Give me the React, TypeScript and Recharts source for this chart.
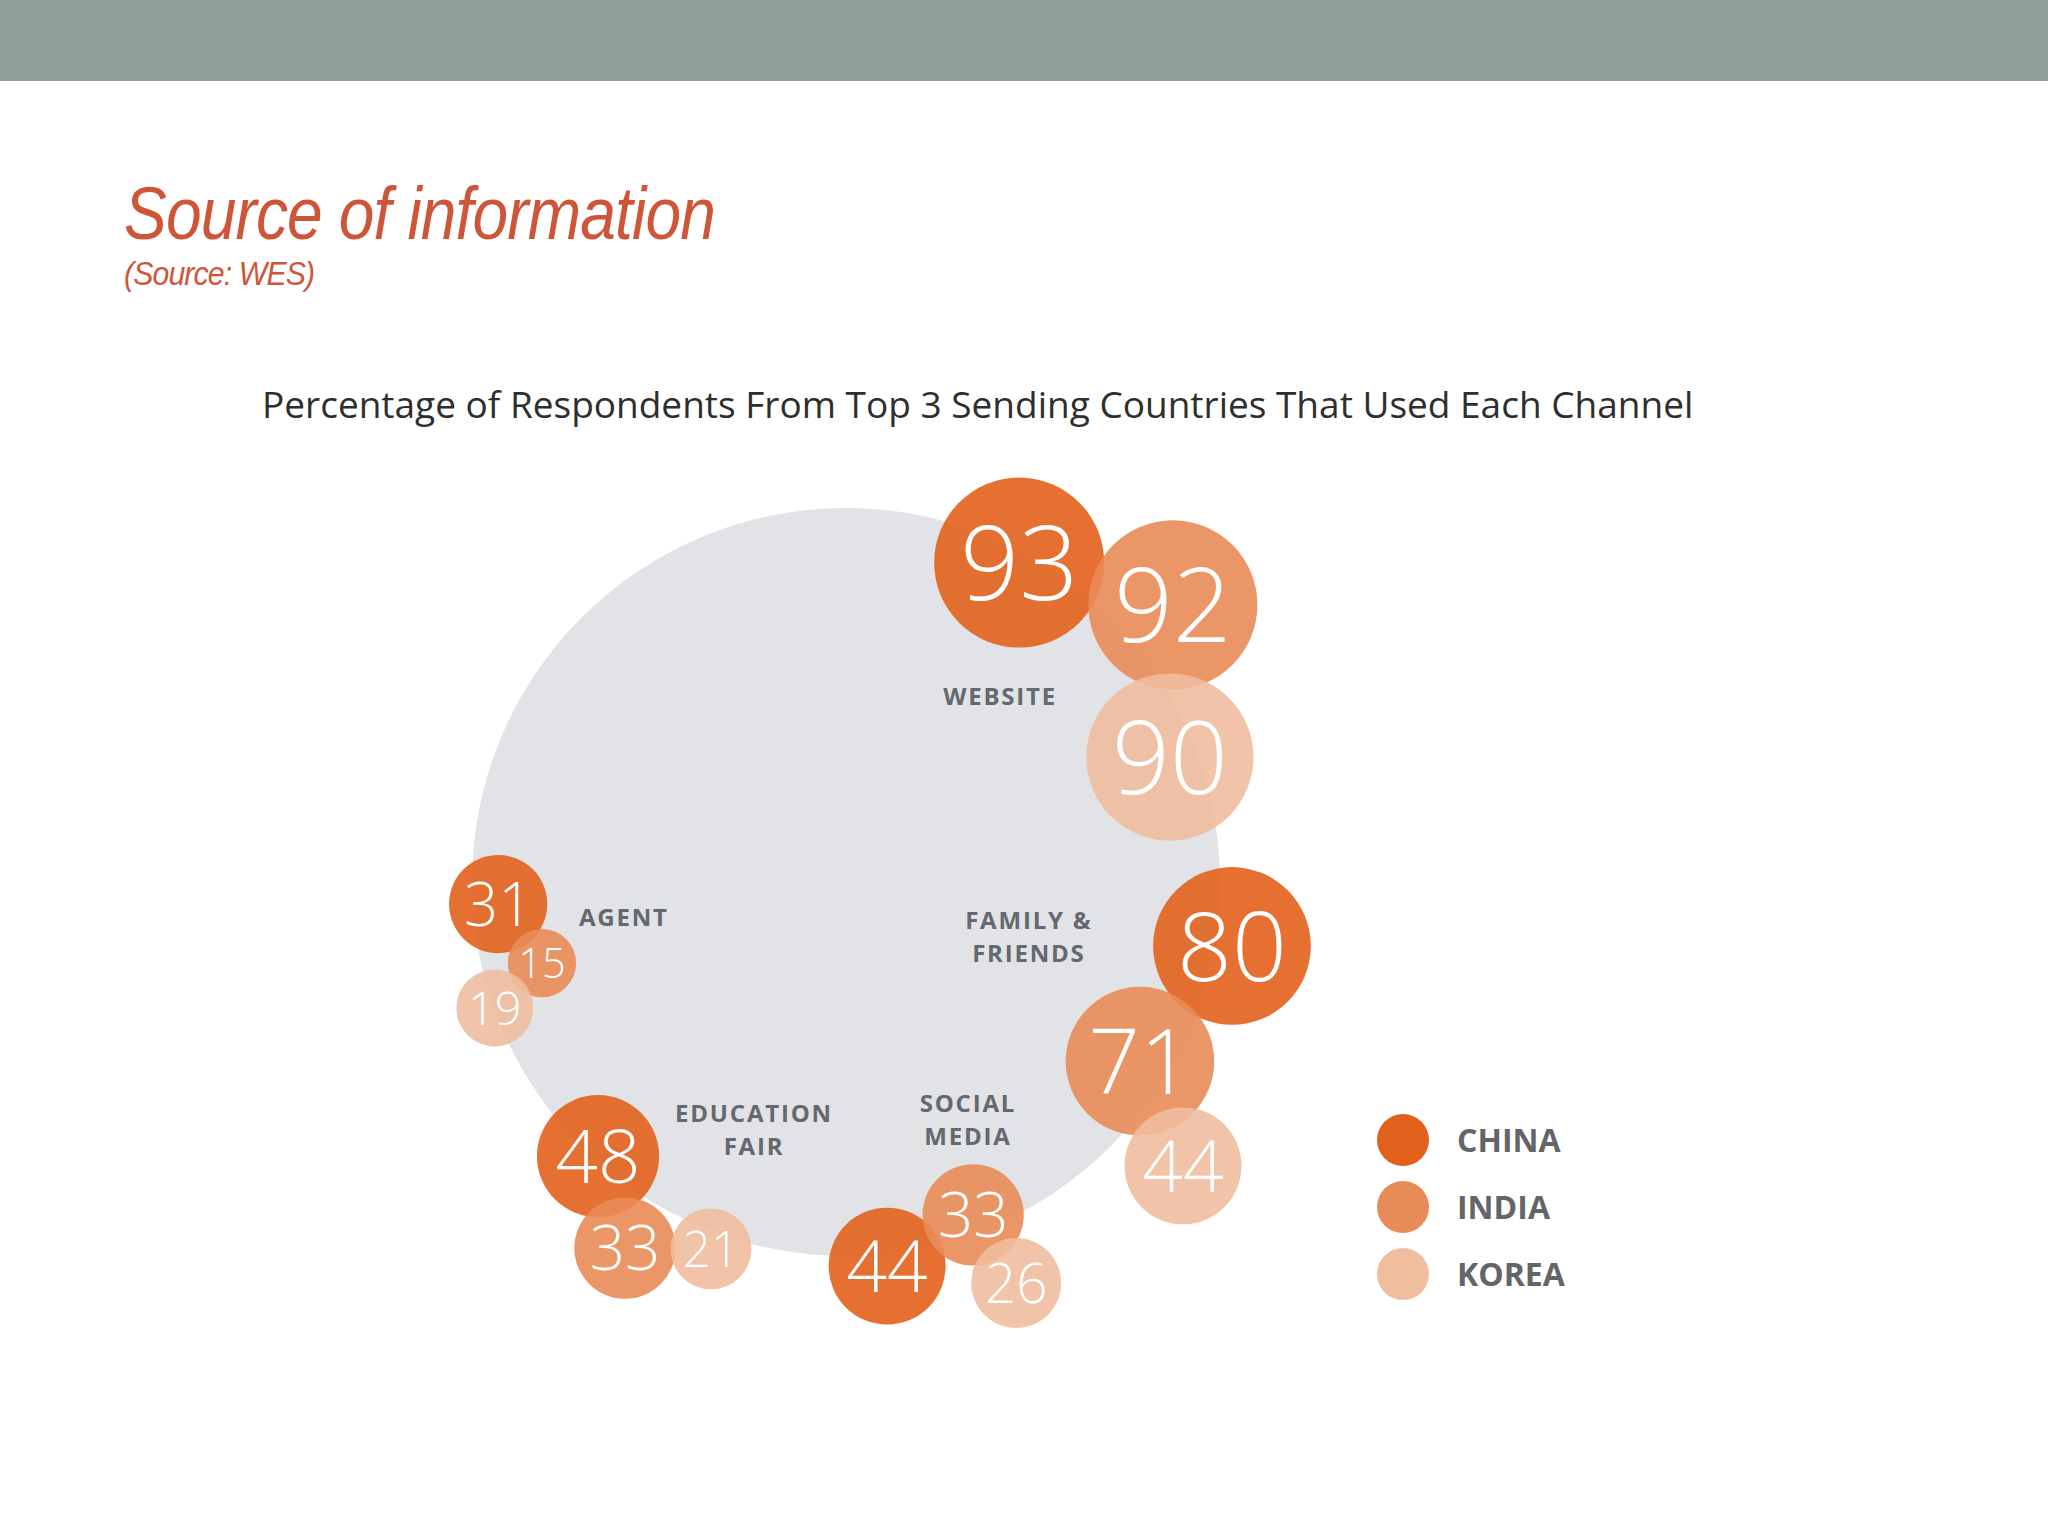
import React from "react";
import { Legend, Scatter, ScatterChart, XAxis, YAxis, ZAxis } from "recharts";

// survey values, channel order: website, family, social media, education fair, agent
const channels = ["WEBSITE", "FAMILY & FRIENDS", "SOCIAL MEDIA", "EDUCATION FAIR", "AGENT"];
const channelLines = [["WEBSITE"], ["FAMILY &", "FRIENDS"], ["SOCIAL", "MEDIA"], ["EDUCATION", "FAIR"], ["AGENT"]];
const countries = ["CHINA", "INDIA", "KOREA"];
const china = [93, 80, 44, 48, 31];
const india = [92, 71, 33, 33, 15];
const korea = [90, 44, 26, 21, 19];

// bubble placement in ring units (ring centre = 0,0, ring radius = 100)
const chinaAt = [[46.3, 85.4], [103.2, -17.1], [11.0, -102.7], [-66.3, -73.3], [-93.0, -5.9]];
const indiaAt = [[87.4, 74.1], [78.6, -47.9], [34.0, -89.0], [-59.1, -97.9], [-81.3, -21.7]];
const koreaAt = [[86.6, 33.4], [90.1, -75.9], [45.5, -107.2], [-36.1, -98.1], [-93.9, -33.7]];
const labelAt = [[41.2, 49.7], [48.9, -14.7], [32.6, -63.6], [-24.6, -66.3], [-59.4, -9.4]];

const colors = ["#e2601b", "#e98b57", "#f0bd9f"];

const W = 2048;
const H = 1536;
const CX = 846;
const CY = 882;
const PX = 3.74; // pixels per ring unit

const toPoints = (values: number[], at: number[][]) =>
  values.map((v, i) => ({ x: at[i][0], y: at[i][1], value: v, name: channels[i] }));

const ring = [{ x: 0, y: 0 }];
const labels = channelLines.map((lines, i) => ({ x: labelAt[i][0], y: labelAt[i][1], lines }));

const bubble = (color: string) => (props: any) => {
  const { cx, cy, width, size, payload } = props;
  const r = width ? width / 2 : Math.sqrt(size / Math.PI);
  const fs = r * 1.22;
  return (
    <g>
      <circle cx={cx} cy={cy} r={r} fill={color} fillOpacity={0.9} />
      <text
        x={cx}
        y={cy}
        dy={fs * 0.36}
        textAnchor="middle"
        fill="#fff"
        fontSize={fs}
        fontWeight={300}
        fontFamily="'Open Sans', sans-serif"
      >
        {payload.value}
      </text>
    </g>
  );
};

const ringShape = (props: any) => (
  <circle cx={props.cx} cy={props.cy} r={100 * PX} fill="#e1e3e6" />
);

const labelShape = (props: any) => {
  const { cx, cy, payload } = props;
  const lines: string[] = payload.lines;
  const lh = 33;
  const top = cy - ((lines.length - 1) * lh) / 2;
  return (
    <g>
      {lines.map((l, i) => (
        <text
          key={l}
          x={cx}
          y={top + i * lh}
          dy={9}
          textAnchor="middle"
          fill="#65686d"
          fontSize={24}
          fontWeight={700}
          letterSpacing={1.8}
          fontFamily="'Open Sans', sans-serif"
        >
          {l}
        </text>
      ))}
    </g>
  );
};

const renderLegend = () => (
  <div>
    {countries.map((c, i) => (
      <div key={c} style={{ display: "flex", alignItems: "center", height: 67 }}>
        <svg width={56} height={56}>
          <circle cx={28} cy={28} r={26} fill={colors[i]} />
        </svg>
        <span
          style={{
            marginLeft: 26,
            fontFamily: "'Open Sans', sans-serif",
            fontWeight: 700,
            fontSize: 32,
            color: "#636568",
          }}
        >
          {c}
        </span>
      </div>
    ))}
  </div>
);

export default function App() {
  return (
    <div style={{ position: "absolute", left: 0, top: 0, width: W, height: H, background: "#fff", overflow: "hidden" }}>
      <div style={{ position: "absolute", left: 0, top: 0, width: W, height: 81, background: "#909f98" }} />
      <div
        style={{
          position: "absolute",
          left: 124,
          top: 177,
          fontFamily: "'Liberation Sans', Arial, sans-serif",
          fontStyle: "italic",
          fontSize: 74,
          letterSpacing: -1,
          color: "#cf5538",
          lineHeight: 1,
          whiteSpace: "nowrap",
          transform: "scaleX(0.866)",
          transformOrigin: "0 0",
        }}
      >
        Source of information
      </div>
      <div
        style={{
          position: "absolute",
          left: 124,
          top: 256,
          fontFamily: "'Liberation Sans', Arial, sans-serif",
          fontStyle: "italic",
          fontSize: 34,
          letterSpacing: -1,
          color: "#cf5538",
          lineHeight: 1,
          whiteSpace: "nowrap",
          transform: "scaleX(0.89)",
          transformOrigin: "0 0",
        }}
      >
        (Source: WES)
      </div>
      <div
        style={{
          position: "absolute",
          left: 262,
          top: 380,
          fontFamily: "'Open Sans', sans-serif",
          fontSize: 37,
          color: "#2e2e2e",
          lineHeight: 1.3,
          whiteSpace: "nowrap",
        }}
      >
        Percentage of Respondents From Top 3 Sending Countries That Used Each Channel
      </div>
      <div style={{ position: "absolute", left: 0, top: 0 }}>
        <ScatterChart width={W} height={H} margin={{ top: 0, right: 0, bottom: 0, left: 0 }}>
          <XAxis type="number" dataKey="x" hide domain={[-CX / PX, (W - CX) / PX]} />
          <YAxis type="number" dataKey="y" hide domain={[(CY - H) / PX, CY / PX]} />
          <ZAxis type="number" dataKey="value" domain={[0, 100]} range={[0, 24410]} />
          <Scatter data={ring} shape={ringShape} isAnimationActive={false} legendType="none" />
          <Scatter data={labels} shape={labelShape} isAnimationActive={false} legendType="none" />
          <Scatter name={countries[0]} data={toPoints(china, chinaAt)} shape={bubble(colors[0])} fill={colors[0]} isAnimationActive={false} />
          <Scatter name={countries[1]} data={toPoints(india, indiaAt)} shape={bubble(colors[1])} fill={colors[1]} isAnimationActive={false} />
          <Scatter name={countries[2]} data={toPoints(korea, koreaAt)} shape={bubble(colors[2])} fill={colors[2]} isAnimationActive={false} />
          <Legend
            verticalAlign="middle"
            align="center"
            content={renderLegend}
            wrapperStyle={{ position: "absolute", left: 1375, top: 1106, width: 320 }}
          />
        </ScatterChart>
      </div>
    </div>
  );
}
